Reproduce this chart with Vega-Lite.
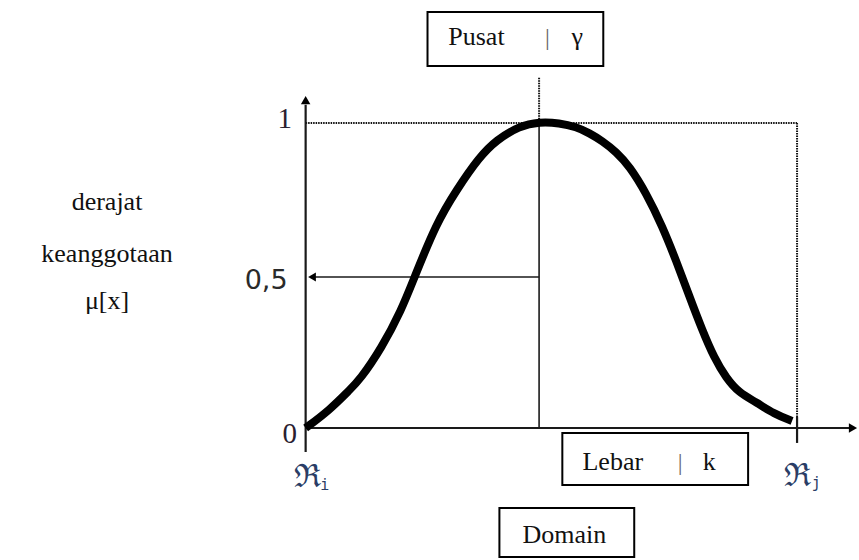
{
  "$schema": "https://vega.github.io/schema/vega-lite/v6.json",
  "width": 859,
  "height": 560,
  "autosize": {"type": "fit", "contains": "padding"},
  "padding": 0,
  "background": "white",
  "config": {"view": {"stroke": null}},
  "datasets": {
    "curve": [
      {"x": 0, "y": 0}, {"x": 4.89, "y": 0.059}, {"x": 8.96, "y": 0.125}, {"x": 11.0, "y": 0.157},
      {"x": 15.48, "y": 0.262}, {"x": 19.55, "y": 0.387}, {"x": 22.2, "y": 0.495}, {"x": 26.68, "y": 0.672},
      {"x": 30.75, "y": 0.78}, {"x": 35.44, "y": 0.889}, {"x": 38.9, "y": 0.944}, {"x": 43.58, "y": 0.99},
      {"x": 47.66, "y": 1.004}, {"x": 51.73, "y": 1.0}, {"x": 55.19, "y": 0.987}, {"x": 57.84, "y": 0.967},
      {"x": 60.49, "y": 0.941}, {"x": 63.34, "y": 0.905}, {"x": 65.99, "y": 0.859}, {"x": 69.45, "y": 0.77},
      {"x": 72.71, "y": 0.662}, {"x": 75.56, "y": 0.548}, {"x": 78.21, "y": 0.433}, {"x": 80.86, "y": 0.321},
      {"x": 83.3, "y": 0.23}, {"x": 85.74, "y": 0.164}, {"x": 88.39, "y": 0.115}, {"x": 91.85, "y": 0.085},
      {"x": 95.52, "y": 0.046}, {"x": 99.18, "y": 0.023}
    ],
    "axes": [
      {"x": 0, "y": -0.079, "x2": 0, "y2": 1.06},
      {"x": 0, "y": 0, "x2": 110.8, "y2": 0},
      {"x": 100.2, "y": 0.036, "x2": 100.2, "y2": -0.049}
    ],
    "dotted": [
      {"x": 0, "y": 1, "x2": 100.2, "y2": 1},
      {"x": 100.2, "y": 1, "x2": 100.2, "y2": 0.036},
      {"x": 47.6, "y": 1.148, "x2": 47.6, "y2": 1}
    ],
    "thin": [
      {"x": 47.6, "y": 0, "x2": 47.6, "y2": 1},
      {"x": 1.5, "y": 0.495, "x2": 47.6, "y2": 0.495}
    ],
    "upArrow": [{"x": 0, "y": 1.075}],
    "rightArrow": [{"x": 111.6, "y": 0}],
    "leftArrow": [{"x": 1.3, "y": 0.495}],
    "boxes": [
      {"x": 24.85, "x2": 60.69, "y": 1.3639, "y2": 1.1869},
      {"x": 52.34, "x2": 90.22, "y": -0.0164, "y2": -0.187},
      {"x": 39.51, "x2": 67.0, "y": -0.262, "y2": -0.423}
    ],
    "labels": [
      {"x": 34.83, "y": 1.2557, "t": "Pusat"},
      {"x": 55.4, "y": 1.2557, "t": "γ"},
      {"x": 62.63, "y": -0.1377, "t": "Lebar"},
      {"x": 82.28, "y": -0.1377, "t": "k"},
      {"x": 52.75, "y": -0.377, "t": "Domain"},
      {"x": -40.5, "y": 0.715, "t": "derajat"},
      {"x": -40.5, "y": 0.545, "t": "keanggotaan"},
      {"x": -40.5, "y": 0.39, "t": "μ[x]"}
    ],
    "pipes": [
      {"x": 49.29, "y": 1.2557, "t": "|"},
      {"x": 76.37, "y": -0.1377, "t": "|"}
    ],
    "digits": [
      {"x": -4.28, "y": 0.984, "t": "1"},
      {"x": -3.26, "y": -0.049, "t": "0"}
    ],
    "half": [{"x": -3.67, "y": 0.456, "t": "0,5"}],
    "frak": [
      {"x": 0.3, "y": -0.193, "t": "ℜ"},
      {"x": 100.2, "y": -0.19, "t": "ℜ"}
    ],
    "subs": [
      {"x": 3.9, "y": -0.203, "t": "i"},
      {"x": 104.1, "y": -0.197, "t": "j"}
    ]
  },
  "encoding": {
    "x": {"field": "x", "type": "quantitative", "axis": null, "scale": {"domain": [-62.32, 112.83], "nice": false, "zero": false}},
    "y": {"field": "y", "type": "quantitative", "axis": null, "scale": {"domain": [-0.4328, 1.4033], "nice": false, "zero": false}}
  },
  "layer": [
    {"data": {"name": "dotted"}, "mark": {"type": "rule", "color": "#111", "strokeWidth": 2, "strokeDash": [1.5, 1]},
     "encoding": {"x2": {"field": "x2"}, "y2": {"field": "y2"}}},
    {"data": {"name": "axes"}, "mark": {"type": "rule", "color": "#1a1a1a", "strokeWidth": 2.2},
     "encoding": {"x2": {"field": "x2"}, "y2": {"field": "y2"}}},
    {"data": {"name": "thin"}, "mark": {"type": "rule", "color": "#1a1a1a", "strokeWidth": 1.6},
     "encoding": {"x2": {"field": "x2"}, "y2": {"field": "y2"}}},
    {"data": {"name": "upArrow"}, "mark": {"type": "point", "shape": "triangle-up", "filled": true, "color": "#000", "size": 90, "opacity": 1}},
    {"data": {"name": "rightArrow"}, "mark": {"type": "point", "shape": "triangle-right", "filled": true, "color": "#000", "size": 90, "opacity": 1}},
    {"data": {"name": "leftArrow"}, "mark": {"type": "point", "shape": "triangle-left", "filled": true, "color": "#000", "size": 80, "opacity": 1}},
    {"data": {"name": "curve"}, "mark": {"type": "line", "color": "#000", "strokeWidth": 8, "interpolate": "basis", "strokeCap": "butt", "strokeJoin": "round"}},
    {"data": {"name": "boxes"}, "mark": {"type": "rect", "fill": "white", "stroke": "#000", "strokeWidth": 2},
     "encoding": {"x2": {"field": "x2"}, "y2": {"field": "y2"}}},
    {"data": {"name": "labels"}, "mark": {"type": "text", "font": "Liberation Serif", "fontSize": 26, "align": "center", "baseline": "alphabetic", "color": "#111"},
     "encoding": {"text": {"field": "t"}}},
    {"data": {"name": "pipes"}, "mark": {"type": "text", "font": "Liberation Serif", "fontSize": 24, "align": "center", "baseline": "alphabetic", "color": "#666"},
     "encoding": {"text": {"field": "t"}}},
    {"data": {"name": "digits"}, "mark": {"type": "text", "font": "Liberation Serif", "fontSize": 29, "align": "center", "baseline": "alphabetic", "color": "#2a2030"},
     "encoding": {"text": {"field": "t"}}},
    {"data": {"name": "half"}, "mark": {"type": "text", "font": "DejaVu Sans", "fontSize": 27, "align": "right", "baseline": "alphabetic", "color": "#2a2a2a"},
     "encoding": {"text": {"field": "t"}}},
    {"data": {"name": "frak"}, "mark": {"type": "text", "font": "DejaVu Serif", "fontSize": 32, "align": "center", "baseline": "alphabetic", "color": "#2a3d66"},
     "encoding": {"text": {"field": "t"}}},
    {"data": {"name": "subs"}, "mark": {"type": "text", "font": "DejaVu Sans Mono", "fontSize": 15, "align": "center", "baseline": "alphabetic", "color": "#2a3d66"},
     "encoding": {"text": {"field": "t"}}}
  ]
}
